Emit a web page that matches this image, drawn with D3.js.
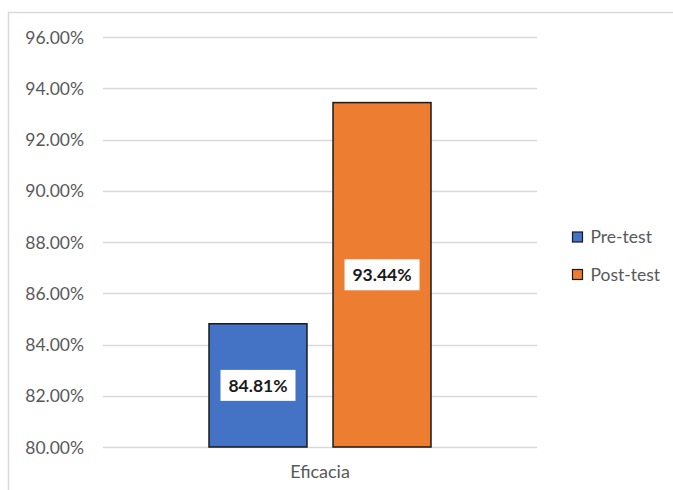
<!DOCTYPE html>
<html>
<head>
<meta charset="utf-8">
<script src="https://cdn.jsdelivr.net/npm/d3@7"></script>
<style>
  html, body { margin: 0; padding: 0; background: #fff; }
  svg { display: block; }
</style>
</head>
<body>
<svg id="chart" width="673" height="490"></svg>
<script>
// Data
const categories = ["Eficacia"];
const seriesNames = ["Pre-test", "Post-test"];
const seriesValues = [84.81, 93.44];
const seriesColors = ["#4472c4", "#ed7d31"];
const yTicks = [80, 82, 84, 86, 88, 90, 92, 94, 96];

const svg = d3.select("#chart");
const font = "Lato, 'Open Sans', sans-serif";

// Chart frame
svg.append("rect")
  .attr("x", 8.5).attr("y", 12.5)
  .attr("width", 700).attr("height", 500)
  .attr("fill", "#fff")
  .attr("stroke", "#d9d9d9")
  .attr("stroke-width", 1.5);

const plot = { left: 103, right: 537, top: 37, bottom: 447 };

const y = d3.scaleLinear().domain([80, 96]).range([plot.bottom, plot.top]);
const x0 = d3.scaleBand().domain(categories).range([plot.left, plot.right]);
const x1 = d3.scaleBand().domain(seriesNames)
  .range([x0(categories[0]) + 106, x0(categories[0]) + x0.bandwidth() - 106])
  .paddingInner(0.21);

// Gridlines
svg.append("g")
  .selectAll("line")
  .data(yTicks)
  .join("line")
  .attr("x1", plot.left).attr("x2", plot.right)
  .attr("y1", d => Math.round(y(d)) + 0.5)
  .attr("y2", d => Math.round(y(d)) + 0.5)
  .attr("stroke", "#d9d9d9")
  .attr("stroke-width", 1.3);

// Y axis labels
const yAxis = d3.axisLeft(y).tickValues(yTicks)
  .tickFormat(d => d.toFixed(2) + "%").tickSize(0).tickPadding(0);
const ya = svg.append("g").attr("transform", `translate(${plot.left - 19},0)`).call(yAxis);
ya.select(".domain").remove();
ya.selectAll("text")
  .attr("font-family", font)
  .attr("font-size", 17.5)
  .attr("fill", "#595959")
  .attr("dy", "0.35em");

// Category label
svg.append("g")
  .selectAll("text")
  .data(categories)
  .join("text")
  .attr("x", d => x0(d) + x0.bandwidth() / 2)
  .attr("y", 478)
  .attr("text-anchor", "middle")
  .attr("font-family", font)
  .attr("font-size", 18)
  .attr("fill", "#595959")
  .text(d => d);

// Bars
const bars = svg.append("g");
bars.selectAll("rect")
  .data(seriesNames)
  .join("rect")
  .attr("x", d => x1(d))
  .attr("width", x1.bandwidth())
  .attr("y", (d, i) => y(seriesValues[i]))
  .attr("height", (d, i) => y(80) - y(seriesValues[i]))
  .attr("fill", (d, i) => seriesColors[i])
  .attr("stroke", "#1a1a1a")
  .attr("stroke-width", 1.5);

// Value labels with white boxes
const labels = svg.append("g")
  .selectAll("g")
  .data(seriesNames)
  .join("g")
  .attr("transform", (d, i) => {
    const cx = x1(d) + x1.bandwidth() / 2;
    const cy = (y(seriesValues[i]) + y(80)) / 2;
    return `translate(${cx},${cy})`;
  });
labels.append("rect")
  .attr("x", -37.5).attr("y", -15.5)
  .attr("width", 75).attr("height", 31)
  .attr("fill", "#fff");
labels.append("text")
  .attr("text-anchor", "middle")
  .attr("dy", "0.36em")
  .attr("font-family", font)
  .attr("font-weight", "bold")
  .attr("font-size", 17.5)
  .attr("fill", "#1a1a1a")
  .text((d, i) => seriesValues[i].toFixed(2) + "%");

// Legend
const legend = svg.append("g")
  .selectAll("g")
  .data(seriesNames)
  .join("g")
  .attr("transform", (d, i) => `translate(572.5,${232 + i * 37.5})`);
legend.append("rect")
  .attr("width", 10).attr("height", 10)
  .attr("fill", (d, i) => seriesColors[i])
  .attr("stroke", "#1a1a1a")
  .attr("stroke-width", 1.2);
legend.append("text")
  .attr("x", 18).attr("y", 5)
  .attr("dy", "0.35em")
  .attr("font-family", font)
  .attr("font-size", 17.5)
  .attr("fill", "#595959")
  .text(d => d);
</script>
</body>
</html>
